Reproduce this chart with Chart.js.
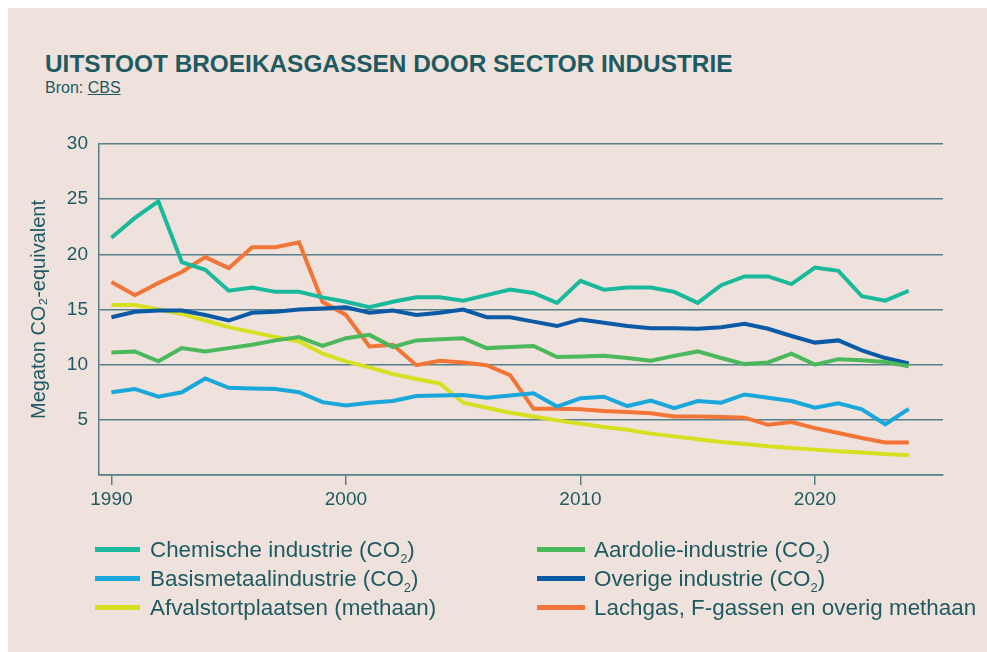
<!DOCTYPE html>
<html lang="nl">
<head>
<meta charset="utf-8">
<title>Uitstoot broeikasgassen door sector industrie</title>
<script src="https://cdn.jsdelivr.net/npm/chart.js@4/dist/chart.umd.min.js"></script>
<style>
  html, body { margin: 0; padding: 0; background: #fff; }
  body { width: 987px; height: 652px; position: relative; overflow: hidden; font-family: "Liberation Sans", Arial, sans-serif; color: #1e5a61; }
  .panel { position: absolute; left: 8px; top: 8px; right: 0; bottom: 0; background: #efe2dc; }
  .title { position: absolute; left: 45px; top: 52px; font-size: 24.4px; font-weight: bold; line-height: 24px; white-space: nowrap; }
  .source { position: absolute; left: 45px; top: 80px; font-size: 16px; line-height: 16px; }
  .source a { color: inherit; text-decoration: underline; }
  #chart { position: absolute; left: 0; top: 0; }
  .lg-item { position: absolute; height: 26px; line-height: 26px; font-size: 22.4px; white-space: nowrap; }
  .lg-mark { position: absolute; height: 5px; }
  .lg-item sub { font-size: 13px; line-height: 0; position: relative; top: 6px; vertical-align: baseline; }
</style>
</head>
<body>
<div class="panel"></div>
<div class="title">UITSTOOT BROEIKASGASSEN DOOR SECTOR INDUSTRIE</div>
<div class="source">Bron: <a>CBS</a></div>
<canvas id="chart" width="987" height="652"></canvas>
<div id="legend"></div>
<script>
// ─── Data ─────────────────────────────────────────────────────────────────────
const years = [1990, 1991, 1992, 1993, 1994, 1995, 1996, 1997, 1998, 1999,
               2000, 2001, 2002, 2003, 2004, 2005, 2006, 2007, 2008, 2009,
               2010, 2011, 2012, 2013, 2014, 2015, 2016, 2017, 2018, 2019,
               2020, 2021, 2022, 2023, 2024];

const chemisch    = [21.5, 23.3, 24.8, 19.3, 18.6, 16.7, 17.0, 16.6, 16.6, 16.1,
                     15.7, 15.2, 15.7, 16.1, 16.1, 15.8, 16.3, 16.8, 16.5, 15.6,
                     17.6, 16.8, 17.0, 17.0, 16.6, 15.6, 17.2, 18.0, 18.0, 17.3,
                     18.8, 18.5, 16.2, 15.8, 16.7];
const aardolie    = [11.1, 11.2, 10.3, 11.5, 11.2, 11.5, 11.8, 12.2, 12.5, 11.7,
                     12.4, 12.7, 11.6, 12.2, 12.3, 12.4, 11.5, 11.6, 11.7, 10.7,
                     10.75, 10.8, 10.6, 10.35, 10.8, 11.2, 10.6, 10.05, 10.2, 11.0,
                     10.0, 10.5, 10.4, 10.25, 9.85];
const basismetaal = [7.5, 7.8, 7.1, 7.5, 8.75, 7.9, 7.85, 7.8, 7.5, 6.6,
                     6.3, 6.55, 6.7, 7.15, 7.2, 7.25, 7.0, 7.2, 7.4, 6.2,
                     6.95, 7.1, 6.25, 6.75, 6.05, 6.7, 6.55, 7.3, 7.0, 6.7,
                     6.1, 6.5, 5.95, 4.6, 6.0];
const overige     = [14.3, 14.8, 14.9, 14.9, 14.5, 14.0, 14.7, 14.8, 15.0, 15.1,
                     15.2, 14.7, 14.9, 14.5, 14.7, 15.0, 14.3, 14.3, 13.9, 13.5,
                     14.1, 13.8, 13.5, 13.3, 13.3, 13.25, 13.4, 13.7, 13.25, 12.6,
                     12.0, 12.2, 11.3, 10.6, 10.1];
const afval       = [15.4, 15.4, 15.0, 14.6, 14.0, 13.4, 12.95, 12.5, 12.1, 11.0,
                     10.3, 9.75, 9.15, 8.7, 8.3, 6.55, 6.1, 5.65, 5.3, 4.95,
                     4.65, 4.35, 4.1, 3.75, 3.5, 3.25, 3.0, 2.8, 2.6, 2.45,
                     2.3, 2.15, 2.05, 1.9, 1.8];
const lachgas     = [17.5, 16.3, 17.4, 18.4, 19.75, 18.75, 20.65, 20.65, 21.1, 15.7,
                     14.5, 11.65, 11.8, 9.95, 10.35, 10.2, 9.95, 9.05, 6.0, 6.0,
                     5.95, 5.8, 5.7, 5.6, 5.3, 5.3, 5.25, 5.2, 4.55, 4.8,
                     4.25, 3.8, 3.35, 2.95, 2.95];

const seriesLabels = ['Chemische industrie (CO₂)', 'Aardolie-industrie (CO₂)',
                      'Basismetaalindustrie (CO₂)', 'Overige industrie (CO₂)',
                      'Afvalstortplaatsen (methaan)', 'Lachgas, F-gassen en overig methaan'];
const seriesColors = ['#1ab99b', '#4cb85c', '#19a7dc', '#0a5aa6', '#d6e021', '#f27436'];
const seriesValues = [chemisch, aardolie, basismetaal, overige, afval, lachgas];

const xTicks = [1990, 2000, 2010, 2020];
const yTicks = [0, 5, 10, 15, 20, 25, 30];

// ─── Styling ──────────────────────────────────────────────────────────────────
const textColor = '#1e5a61';
const gridColor = '#55808a';
const fontFamily = '"Liberation Sans", Arial, sans-serif';

// ─── Chart ────────────────────────────────────────────────────────────────────
const datasets = seriesValues.map((vals, i) => ({
  label: seriesLabels[i],
  data: vals.map((v, j) => ({ x: years[j], y: v })),
  borderColor: seriesColors[i],
  backgroundColor: seriesColors[i],
  borderWidth: 4,
  pointRadius: 0,
  tension: 0,
  fill: false,
}));

new Chart(document.getElementById('chart'), {
  type: 'line',
  data: { datasets },
  options: {
    responsive: false,
    animation: false,
    layout: { padding: { left: 0, top: 144, right: 44, bottom: 137 } },
    plugins: { legend: { display: false }, tooltip: { enabled: false } },
    scales: {
      x: {
        type: 'linear',
        min: 1989.47, max: 2025.46,
        afterBuildTicks: s => { s.ticks = xTicks.map(v => ({ value: v })); },
        afterFit: s => { s.height = 40; },
        grid: { drawOnChartArea: false, drawTicks: true, tickLength: 10, color: gridColor, lineWidth: 1.5 },
        border: { display: true, color: gridColor, width: 1.5 },
        ticks: { padding: 3, color: textColor, font: { family: fontFamily, size: 19 }, callback: v => String(v), maxRotation: 0 },
      },
      y: {
        min: 0, max: 30,
        afterBuildTicks: s => { s.ticks = yTicks.map(v => ({ value: v })); },
        afterFit: s => { s.width = 99; },
        grid: { drawTicks: false, color: gridColor, lineWidth: 1.5 },
        border: { display: true, color: gridColor, width: 1.5 },
        ticks: { padding: 11, color: textColor, font: { family: fontFamily, size: 19 }, callback: v => v === 0 ? '' : String(v) },
        title: {
          display: true,
          text: 'Megaton CO₂-equivalent',
          color: textColor,
          font: { family: fontFamily, size: 20 },
          padding: { top: 27, bottom: 0 },
        },
      },
    },
  },
});

// ─── Legend (two columns) ─────────────────────────────────────────────────────
const legend = document.getElementById('legend');
seriesLabels.forEach((label, i) => {
  const col = i % 2, row = Math.floor(i / 2);
  const top = 537 + row * 29;
  const mark = document.createElement('div');
  mark.className = 'lg-mark';
  mark.style.left = (col ? 537 : 95) + 'px';
  mark.style.width = (col ? 48 : 45) + 'px';
  mark.style.top = (top + 10) + 'px';
  mark.style.background = seriesColors[i];
  legend.appendChild(mark);
  const item = document.createElement('div');
  item.className = 'lg-item';
  item.style.left = (col ? 594 : 150) + 'px';
  item.style.top = top + 'px';
  item.innerHTML = label.replace('₂', '<sub>2</sub>');
  legend.appendChild(item);
});
</script>
</body>
</html>
